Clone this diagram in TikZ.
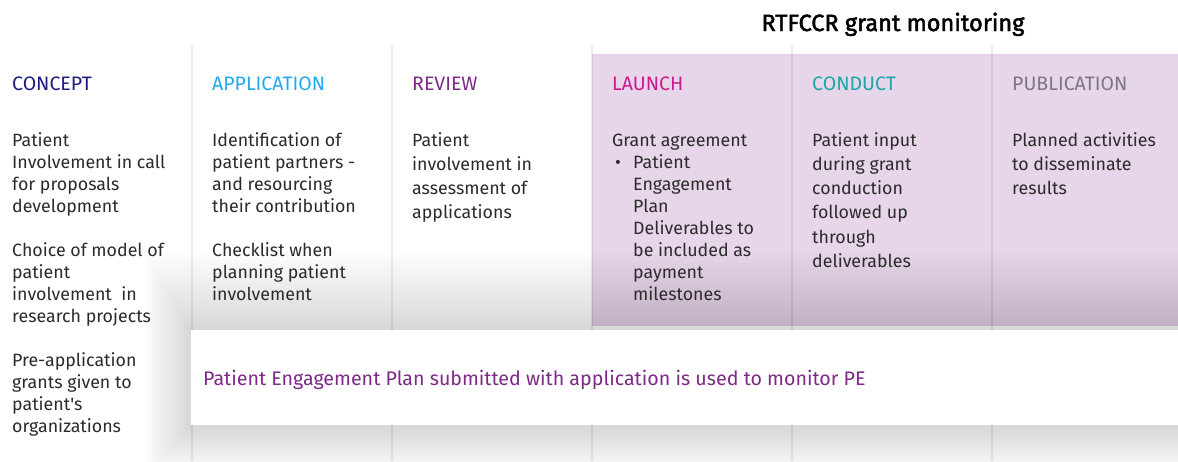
\documentclass[tikz,border=0pt]{standalone}
\usepackage{fontspec}
\setmainfont{Fira Sans}
\newfontfamily\titlefont[FakeBold=2]{Fira Sans}
\definecolor{bodytext}{HTML}{2B2B2B}
\definecolor{cconcept}{HTML}{1C1C7E}
\definecolor{capplication}{HTML}{1FAAF0}
\definecolor{creview}{HTML}{7D2A87}
\definecolor{claunch}{HTML}{CC1A8E}
\definecolor{cconduct}{HTML}{18A6A6}
\definecolor{cpublication}{HTML}{7C7582}
\definecolor{lilac}{HTML}{E7D6E9}
\begin{document}
\begin{tikzpicture}[x=1pt,y=-1pt,
  body/.style={anchor=north west, inner sep=0pt, align=left, text=bodytext, font=\fontsize{17.8}{22}\selectfont},
  bodyw/.style={body, font=\fontsize{17.8}{24.2}\selectfont},
  head/.style={anchor=base west, inner sep=0pt, font=\fontsize{19.5}{22}\selectfont},
  divider/.style={line width=1.5pt, black, opacity=0.07}]
\useasboundingbox (0,0) rectangle (1178,461);
\clip (0,0) rectangle (1178,461);
\fill[white] (0,0) rectangle (1178,461);
% lilac monitoring band
\fill[lilac] (592,54) rectangle (1178,326);
% column dividers
\foreach \x in {192,392,592,792,992} \draw[divider] (\x,45) -- (\x,461);
% soft shadow of the bar
\foreach \i in {1,...,40}
  \fill[black, opacity=0.005] ({191-1.2*\i},{331-2*\i}) rectangle ({1190+3*\i},{426+1.2*\i});
% white bar
\fill[white] (191,330) rectangle (1178,425);

% title
\node[anchor=base, inner sep=0pt, font=\titlefont\fontsize{23.5}{26}\selectfont] (title) at (893,31) {RTFCCR grant monitoring};

% headers
\node[head, text=cconcept] (h1) at (12,90) {CONCEPT};
\node[head, text=capplication] (h2) at (212,90) {APPLICATION};
\node[head, text=creview] (h3) at (412,90) {REVIEW};
\node[head, text=claunch] (h4) at (612,90) {LAUNCH};
\node[head, text=cconduct] (h5) at (812,90) {CONDUCT};
\node[head, text=cpublication] (h6) at (1012,90) {PUBLICATION};

% concept
\node[body] (c1a) at (12,130.6) {\strut Patient\\Involvement in call\\for proposals\\development};
\node[body] (c1b) at (12,240.6) {\strut Choice of model of\\patient\\involvement \ in\\research projects};
\node[body] (c1c) at (12,350.6) {\strut Pre-application\\grants given to\\patient\textquotesingle s\\organizations};
% application
\node[body] (c2a) at (212,130.6) {\strut Identification of\\patient partners -\\and resourcing\\their contribution};
\node[body] (c2b) at (212,240.6) {\strut Checklist when\\planning patient\\involvement};
% review
\node[bodyw] (c3a) at (412,129.2) {\strut Patient\\involvement in\\assessment of\\applications};
% launch
\node[body] (c4a) at (612,130.6) {\strut Grant agreement};
\node[anchor=base west, inner sep=0pt, text=bodytext, font=\fontsize{17.8}{22}\selectfont] (c4bul) at (615,168) {\textbullet};
\node[body] (c4b) at (633,152.6) {\strut Patient\\Engagement\\Plan\\Deliverables to\\be included as\\payment\\milestones};
% conduct
\node[bodyw] (c5a) at (812,129.2) {\strut Patient input\\during grant\\conduction\\followed up\\through\\deliverables};
% publication
\node[bodyw] (c6a) at (1012,129.2) {\strut Planned activities\\to disseminate\\results};

% bar text
\node[anchor=base west, inner sep=0pt, text=creview, font=\fontsize{19.65}{22}\selectfont] (pe) at (203,385) {Patient Engagement Plan submitted with application is used to monitor PE};
\end{tikzpicture}
\end{document}
